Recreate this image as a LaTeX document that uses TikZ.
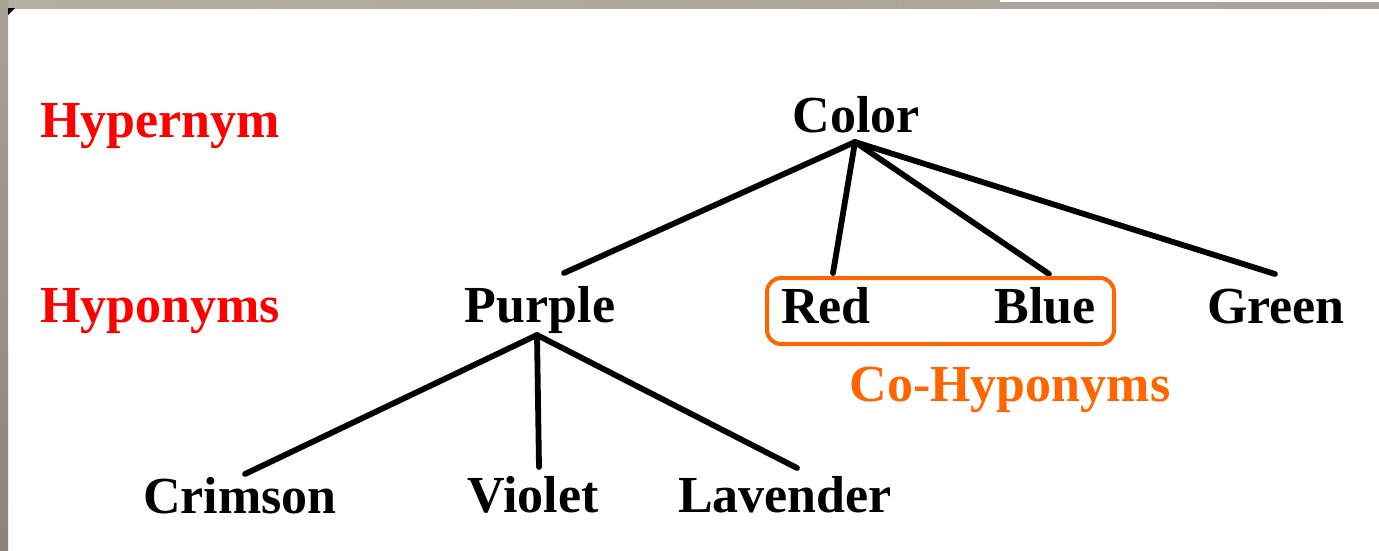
\documentclass[tikz,border=0pt]{standalone}
\usepackage{fontspec}
\setmainfont{Liberation Serif}
\begin{document}
\begin{tikzpicture}[x=1pt,y=-1pt,
  word/.style={inner sep=0pt,anchor=base,font=\bfseries\fontsize{52}{60}\selectfont},
  label/.style={word,text=red},
  edge/.style={line width=5.8pt,line cap=round},
  group/.style={draw={rgb,255:red,255;green,102;blue,0},line width=4pt,rounded corners=14pt}]
\definecolor{stripA}{RGB}{180,175,163}
\definecolor{stripB}{RGB}{168,162,150}
\definecolor{stripC}{RGB}{138,133,121}
\definecolor{cohypo}{RGB}{255,102,0}
\useasboundingbox (0,0) rectangle (1379,550);
% background frame
\fill[white] (0,0) rectangle (1379,550);
\shade[left color=stripA,right color=stripB] (0,0) rectangle (1379,8);
\fill[white] (1000,0) rectangle (1379,2);
\shade[top color=stripB,bottom color=stripC] (0,0) rectangle (8,550);
\fill[black] (8,8) -- (15,8) -- (8,15) -- cycle;
% labels
\node[label,anchor=base west] (hyper) at (40,137) {Hypernym};
\node[label,anchor=base west] (hypo) at (40,322) {Hyponyms};
% words
\node[word] (color) at (856,132) {Color};
\node[word] (purple) at (540,322) {Purple};
\node[word] (red) at (826,323) {Red};
\node[word] (blue) at (1045,323) {Blue};
\node[word] (green) at (1276,323) {Green};
\node[word] (crimson) at (240,513) {Crimson};
\node[word] (violet) at (533,512) {Violet};
\node[word] (lavender) at (785,512) {Lavender};
\node[word,text=cohypo] (co) at (1010,401) {Co-Hyponyms};
% connector ends
\coordinate (colorB) at (855,142);
\coordinate (purpleT) at (564,273);
\coordinate (redT) at (833,273);
\coordinate (blueT) at (1049,274);
\coordinate (greenT) at (1275,274);
\coordinate (purpleB) at (537,335);
\coordinate (crimsonT) at (245,474);
\coordinate (violetT) at (539,467);
\coordinate (lavenderT) at (797,468);
\draw[edge] (colorB) -- (purpleT);
\draw[edge] (colorB) -- (redT);
\draw[edge] (colorB) -- (blueT);
\draw[edge] (colorB) -- (greenT);
\draw[edge] (purpleB) -- (crimsonT);
\draw[edge] (purpleB) -- (violetT);
\draw[edge] (purpleB) -- (lavenderT);
% co-hyponym group
\draw[group] (767,278) rectangle (1114,344);
\end{tikzpicture}
\end{document}
